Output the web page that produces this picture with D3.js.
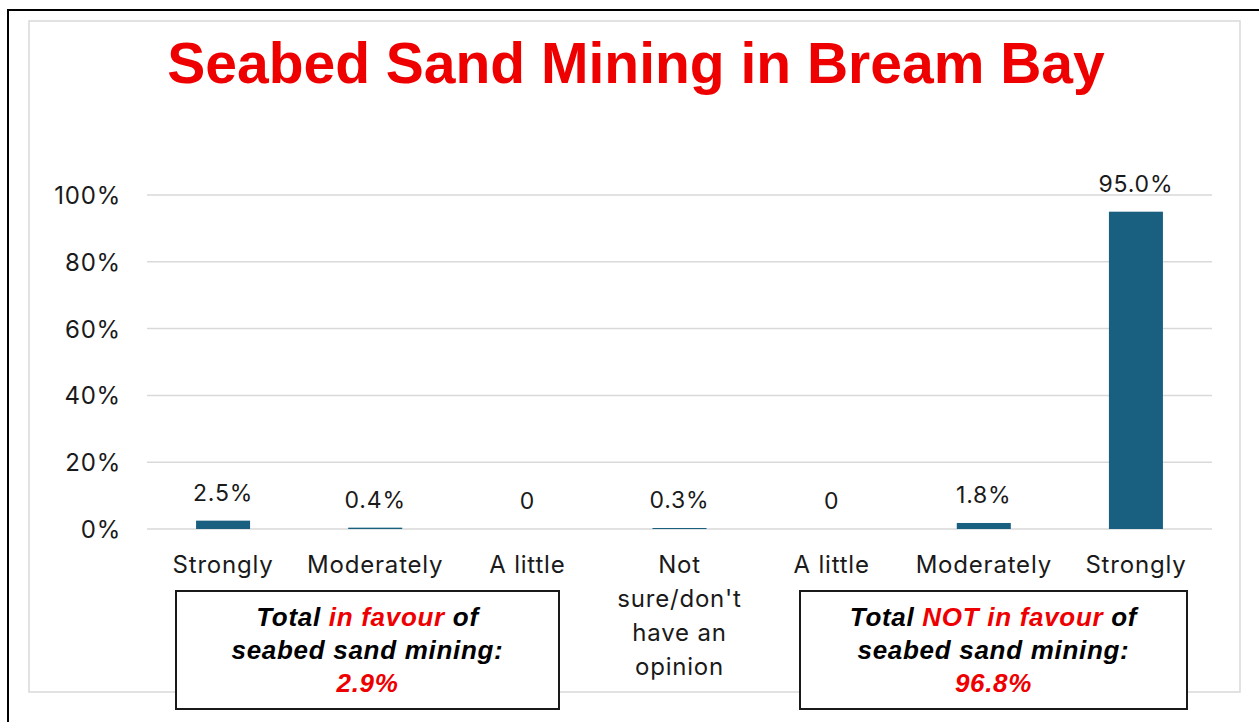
<!DOCTYPE html>
<html>
<head>
<meta charset="utf-8">
<script src="https://cdn.jsdelivr.net/npm/d3@7"></script>
<style>
  html, body { margin: 0; padding: 0; background: #fff; overflow: hidden; }
  svg { display: block; }
</style>
</head>
<body>
<svg id="chart" width="1259" height="722"></svg>
<script>
// ---- data ----
const categories = ["Strongly", "Moderately", "A little", "Not sure/don't have an opinion", "A little", "Moderately", "Strongly"];
const categoryLines = [["Strongly"], ["Moderately"], ["A little"], ["Not", "sure/don't", "have an", "opinion"], ["A little"], ["Moderately"], ["Strongly"]];
const values = [2.5, 0.4, 0, 0.3, 0, 1.8, 95.0];
const valueLabels = ["2.5%", "0.4%", "0", "0.3%", "0", "1.8%", "95.0%"];
const yTicks = [0, 20, 40, 60, 80, 100];
const titleText = "Seabed Sand Mining in Bream Bay";
const boxInFavour = [[{t: "Total ", red: false}, {t: "in favour", red: true}, {t: " of", red: false}], [{t: "seabed sand mining:", red: false}], [{t: "2.9%", red: true}]];
const boxNotInFavour = [[{t: "Total ", red: false}, {t: "NOT in favour", red: true}, {t: " of", red: false}], [{t: "seabed sand mining:", red: false}], [{t: "96.8%", red: true}]];

const svg = d3.select("#chart");
const FONT = "Inter, 'Open Sans', 'DejaVu Sans', sans-serif";
const RED = "#ee0000";
const BAR = "#185f80";
const TXT = "#1a1a1a";

// frames
svg.append("rect").attr("x", 8).attr("y", 10).attr("width", 1400).attr("height", 900)
  .attr("fill", "none").attr("stroke", "#000").attr("stroke-width", 2);
svg.append("rect").attr("x", 29).attr("y", 21).attr("width", 1211).attr("height", 671)
  .attr("fill", "none").attr("stroke", "#d9d9d9").attr("stroke-width", 1.5);

// title
svg.append("text").attr("x", 636).attr("y", 83).attr("text-anchor", "middle")
  .attr("font-family", "'Liberation Sans', Arial, sans-serif").attr("font-weight", "bold")
  .attr("font-size", 57).attr("fill", RED).text(titleText);

// scales
const x = d3.scaleBand().domain(d3.range(categories.length)).range([147, 1212])
  .paddingInner(0.645).paddingOuter(0.3225);
const y = d3.scaleLinear().domain([0, 100]).range([529, 195]);

// gridlines
svg.append("g").selectAll("line").data(yTicks).join("line")
  .attr("x1", 147).attr("x2", 1212)
  .attr("y1", d => y(d)).attr("y2", d => y(d))
  .attr("stroke", "#d9d9d9").attr("stroke-width", 1.5);

// y axis labels
const yAxis = d3.axisLeft(y).tickValues(yTicks).tickFormat(d => d + "%").tickSize(0).tickPadding(0);
const yg = svg.append("g").attr("transform", "translate(121,0)").call(yAxis);
yg.select(".domain").remove();
yg.selectAll("text").attr("font-family", FONT).attr("font-size", 24).attr("letter-spacing", 0.8)
  .attr("fill", TXT).attr("dy", "0.35em");

// bars
svg.append("g").selectAll("rect").data(values).join("rect")
  .attr("x", (d, i) => x(i)).attr("width", x.bandwidth())
  .attr("y", d => y(d)).attr("height", d => y(0) - y(d))
  .attr("fill", BAR);

// value labels
svg.append("g").selectAll("text").data(values).join("text")
  .attr("x", (d, i) => x(i) + x.bandwidth() / 2)
  .attr("y", d => y(d) - 20)
  .attr("text-anchor", "middle").attr("font-family", FONT).attr("font-size", 23).attr("letter-spacing", 0.8)
  .attr("fill", TXT)
  .text((d, i) => valueLabels[i]);

// category labels
const cg = svg.append("g").selectAll("text").data(categoryLines).join("text")
  .attr("text-anchor", "middle").attr("font-family", FONT).attr("font-size", 24).attr("letter-spacing", 0.8)
  .attr("fill", TXT);
cg.each(function(lines, i) {
  const t = d3.select(this);
  lines.forEach((ln, j) => {
    t.append("tspan").attr("x", x(i) + x.bandwidth() / 2).attr("y", 573 + j * 34).text(ln);
  });
});

// boxes
function drawBox(x0, x1, lines) {
  svg.append("rect").attr("x", x0).attr("y", 591).attr("width", x1 - x0).attr("height", 118)
    .attr("fill", "#fff").attr("stroke", "#1a1a1a").attr("stroke-width", 2);
  lines.forEach((parts, j) => {
    const t = svg.append("text").attr("x", (x0 + x1) / 2).attr("y", 626 + j * 33)
      .attr("text-anchor", "middle").attr("font-family", "'Liberation Sans', Arial, sans-serif")
      .attr("font-weight", "bold").attr("font-style", "italic").attr("font-size", 26).attr("letter-spacing", 0.7);
    parts.forEach(p => t.append("tspan").attr("fill", p.red ? RED : "#000").text(p.t));
  });
}
drawBox(176, 559, boxInFavour);
drawBox(800, 1187, boxNotInFavour);
</script>
</body>
</html>
